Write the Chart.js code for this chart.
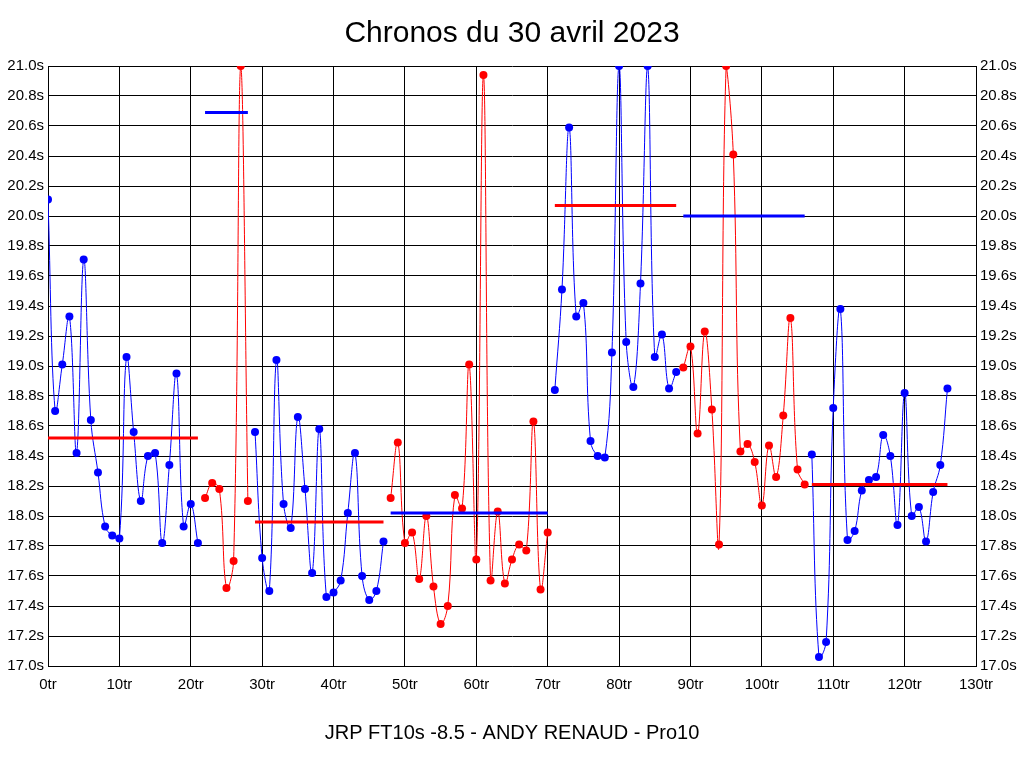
<!DOCTYPE html>
<html lang="fr">
<head>
<meta charset="utf-8">
<title>Chronos du 30 avril 2023</title>
<script src="https://cdn.jsdelivr.net/npm/chart.js@4.4.0/dist/chart.umd.min.js"></script>
<style>
  html, body { margin: 0; padding: 0; background: #fff; }
  #graf { display: block; }
</style>
</head>
<body>
<canvas id="graf" width="1024" height="768"></canvas>
<script>
// Chronos tour par tour (secondes), index = numéro du tour
const chronos = [
  20.11, 18.70, 19.01, 19.33, 18.42, 19.71, 18.64, 18.29, 17.93, 17.87,
  17.85, 19.06, 18.56, 18.10, 18.40, 18.42, 17.82, 18.34, 18.95, 17.93,
  18.08, 17.82, 18.12, 18.22, 18.18, 17.52, 17.70, 21.00, 18.10, 18.56,
  17.72, 17.50, 19.04, 18.08, 17.92, 18.66, 18.18, 17.62, 18.58, 17.46,
  17.49, 17.57, 18.02, 18.42, 17.60, 17.44, 17.50, 17.83, 18.12, 18.49,
  17.82, 17.89, 17.58, 18.00, 17.53, 17.28, 17.40, 18.14, 18.05, 19.01,
  17.71, 20.94, 17.57, 18.03, 17.55, 17.71, 17.81, 17.77, 18.63, 17.51,
  17.89, 18.84, 19.51, 20.59, 19.33, 19.42, 18.50, 18.40, 18.39, 19.09,
  21.00, 19.16, 18.86, 19.55, 21.00, 19.06, 19.21, 18.85, 18.96, 18.99,
  19.13, 18.55, 19.23, 18.71, 17.81, 21.00, 20.41, 18.43, 18.48, 18.36,
  18.07, 18.47, 18.26, 18.67, 19.32, 18.31, 18.21, 18.41, 17.06, 17.16,
  18.72, 19.38, 17.84, 17.90, 18.17, 18.24, 18.26, 18.54, 18.40, 17.94,
  18.82, 18.00, 18.06, 17.83, 18.16, 18.34, 18.85
];

// Séries (premier et dernier tour de chaque relais)
const debutsSeries = [0, 22, 29, 48, 71, 89, 107];
const finsSeries = [21, 28, 47, 70, 88, 106, 126];
// Ligne de référence de chaque série
const moyennes = [18.52, 20.69, 17.96, 18.02, 20.07, 20.00, 18.21];

const BLEU = '#0000ff';
const ROUGE = '#ff0000';

const datasets = [];
debutsSeries.forEach((deb, s) => {
  const fin = finsSeries[s];
  const coul = s % 2 === 0 ? BLEU : ROUGE;
  const autre = s % 2 === 0 ? ROUGE : BLEU;
  const pts = [];
  for (let i = deb; i <= fin; i++) pts.push({ x: i, y: chronos[i] });

  datasets.push({
    data: pts,
    borderColor: coul,
    backgroundColor: coul,
    borderWidth: 1,
    pointRadius: 4,
    pointBorderWidth: 0,
    pointBackgroundColor: coul,
    tension: 0.4,
    order: 2
  });

  // trait horizontal de la série
  datasets.push({
    data: [{ x: deb, y: moyennes[s] }, { x: fin, y: moyennes[s] }],
    borderColor: autre,
    borderWidth: 3,
    pointRadius: 0,
    tension: 0,
    order: 1
  });
});

const police = "'Liberation Sans', Arial, sans-serif";
const ticksY = {
  min: 17, max: 21,
  ticks: {
    stepSize: 0.2,
    color: '#000',
    padding: 4,
    font: { family: police, size: 15 },
    callback: v => v.toFixed(1) + 's'
  },
  border: { color: '#000', width: 1 },
  afterFit: sc => { sc.width = 48; }
};

new Chart(document.getElementById('graf'), {
  type: 'line',
  data: { datasets },
  options: {
    responsive: false,
    animation: false,
    layout: { padding: 0 },
    scales: {
      x: {
        type: 'linear',
        min: 0, max: 130,
        ticks: {
          stepSize: 10,
          color: '#000',
          padding: 10,
          font: { family: police, size: 15 },
          callback: v => v + 'tr'
        },
        grid: { color: '#000', lineWidth: 1, drawTicks: false },
        border: { color: '#000', width: 1 },
        afterFit: sc => { sc.height = 30; }
      },
      y: Object.assign({}, ticksY, {
        position: 'left',
        grid: { color: '#000', lineWidth: 1, drawTicks: false }
      }),
      y2: Object.assign({}, ticksY, {
        position: 'right',
        grid: { drawOnChartArea: false, drawTicks: false }
      })
    },
    plugins: {
      legend: { display: false },
      tooltip: { enabled: false },
      title: {
        display: true,
        text: 'Chronos du 30 avril 2023',
        color: '#000',
        font: { family: police, size: 30, weight: 'normal' },
        padding: { top: 16, bottom: 14 }
      },
      subtitle: {
        display: true,
        position: 'bottom',
        text: 'JRP FT10s -8.5 - ANDY RENAUD - Pro10',
        color: '#000',
        font: { family: police, size: 20, weight: 'normal' },
        padding: { top: 25, bottom: 23 }
      }
    }
  }
});
</script>
</body>
</html>
